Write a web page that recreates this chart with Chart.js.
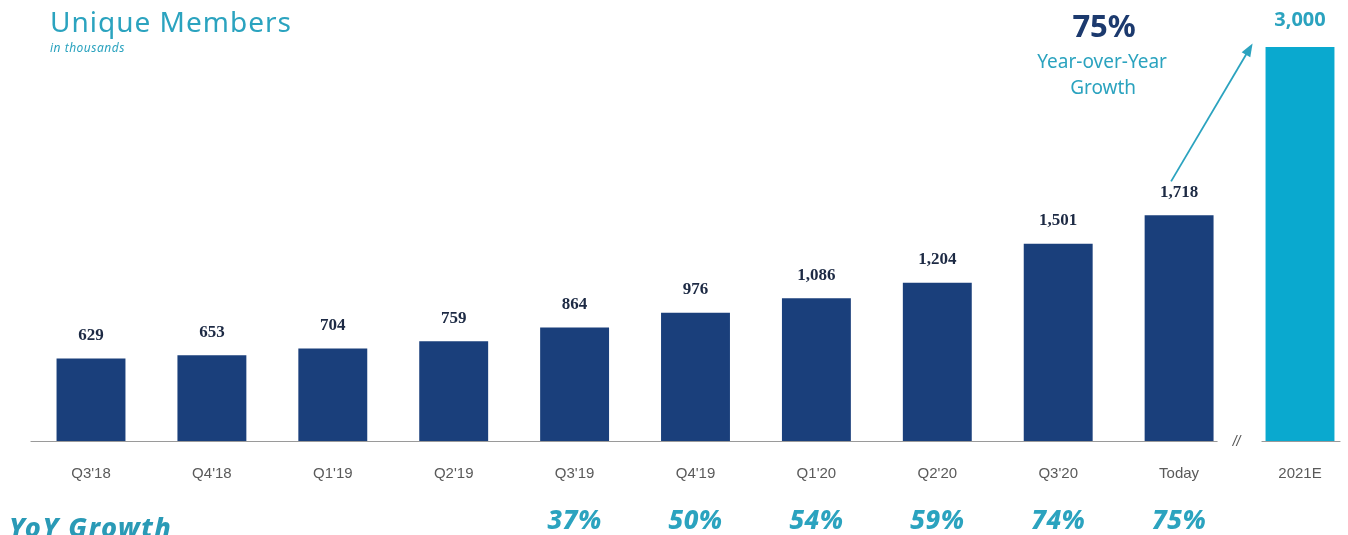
<!DOCTYPE html>
<html>
<head>
<meta charset="utf-8">
<title>Unique Members</title>
<script src="https://cdn.jsdelivr.net/npm/chart.js@4.4.1/dist/chart.umd.min.js"></script>
<style>
  html, body { margin: 0; padding: 0; background: #fff; }
  #wrap { width: 1348px; height: 535px; position: relative; }
</style>
</head>
<body>
<div id="wrap"><canvas id="membersChart"></canvas></div>
<script>
// quarters + the 2021 estimate
var categories = ["Q3'18", "Q4'18", "Q1'19", "Q2'19", "Q3'19", "Q4'19", "Q1'20", "Q2'20", "Q3'20", "Today", "2021E"];
// unique members, in thousands
var members = [629, 653, 704, 759, 864, 976, 1086, 1204, 1501, 1718, 3000];
// year over year growth (%) shown under the axis
var yoyGrowth = [null, null, null, null, 37, 50, 54, 59, 74, 75, null];
var headlineGrowth = 75;

var NAVY = '#1a3f7b';
var CYAN = '#0aa9cf';
var TEAL = '#2ba3bf';
var estimateIndex = categories.length - 1;

var barColors = members.map(function (v, i) { return i === estimateIndex ? CYAN : NAVY; });

function fmt(n) {
    return n.toLocaleString('en-US');
}

// headline text, baseline, value labels, growth row and arrow
var extras = {
    id: 'extras',
    afterDatasetsDraw: function (chart) {
        var c = chart.ctx;
        var bars = chart.getDatasetMeta(0).data;
        var area = chart.chartArea;
        var x = chart.scales.x;
        var step = x.getPixelForValue(1) - x.getPixelForValue(0);
        var today = bars[estimateIndex - 1];
        var est = bars[estimateIndex];
        var gapX = (today.x + est.x) / 2;

        c.save();

        // baseline, broken before the estimate bar
        c.strokeStyle = '#9a9a9a';
        c.lineWidth = 1.2;
        c.beginPath();
        c.moveTo(bars[0].x - step / 2, area.bottom + 0.5);
        c.lineTo(gapX - 22, area.bottom + 0.5);
        c.moveTo(est.x - est.width / 2 - 4, area.bottom + 0.5);
        c.lineTo(est.x + est.width / 2 + 6, area.bottom + 0.5);
        c.stroke();
        c.fillStyle = '#555';
        c.font = 'italic 14px "Liberation Sans", Arial, sans-serif';
        c.textAlign = 'center';
        c.textBaseline = 'middle';
        c.fillText('//', gapX - 3, area.bottom + 1);

        // value labels
        bars.forEach(function (bar, i) {
            if (i === estimateIndex) {
                c.fillStyle = TEAL;
                c.font = 'bold 20px "Noto Sans", sans-serif';
                c.fillText(fmt(members[i]), bar.x, bar.y - 27);
            } else {
                c.fillStyle = '#1d2a44';
                c.font = 'bold 17px "Liberation Serif", "Times New Roman", serif';
                c.fillText(fmt(members[i]), bar.x, bar.y - 23);
            }
        });

        // YoY growth row
        c.fillStyle = TEAL;
        c.font = 'italic 800 26px "Noto Sans", sans-serif';
        c.letterSpacing = '0.5px';
        yoyGrowth.forEach(function (g, i) {
            if (g === null) return;
            c.fillText(g + '%', bars[i].x, 522);
        });
        c.textAlign = 'left';
        c.textBaseline = 'alphabetic';
        c.fillStyle = '#2a9ab6';
        c.font = 'italic 800 27px "Noto Sans", sans-serif';
        c.letterSpacing = '1.5px';
        c.fillText('YoY Growth', 9, 537);
        c.letterSpacing = '0px';
        c.textBaseline = 'middle';

        // growth arrow from today's bar to the estimate
        var x0 = today.x - 8, y0 = today.y - 34;
        var x1 = est.x - est.width / 2 - 15, y1 = est.y;
        c.strokeStyle = TEAL;
        c.fillStyle = TEAL;
        c.lineWidth = 1.8;
        c.beginPath();
        c.moveTo(x0, y0);
        c.lineTo(x1, y1);
        c.stroke();
        var ang = Math.atan2(y1 - y0, x1 - x0);
        c.beginPath();
        c.moveTo(x1 + 4 * Math.cos(ang), y1 + 4 * Math.sin(ang));
        c.lineTo(x1 - 9 * Math.cos(ang) + 5 * Math.sin(ang), y1 - 9 * Math.sin(ang) - 5 * Math.cos(ang));
        c.lineTo(x1 - 9 * Math.cos(ang) - 5 * Math.sin(ang), y1 - 9 * Math.sin(ang) + 5 * Math.cos(ang));
        c.closePath();
        c.fill();

        // headline callout
        var cx = today.x - 75;
        c.textAlign = 'center';
        c.fillStyle = '#1c3a6e';
        c.font = 'bold 31px "Noto Sans", sans-serif';
        c.fillText(headlineGrowth + '%', cx, 28);
        c.fillStyle = TEAL;
        c.font = '19px "Noto Sans", sans-serif';
        c.fillText('Year-over-Year', cx - 2, 63);
        c.fillText('Growth', cx - 1, 89);

        // title
        c.textAlign = 'left';
        c.textBaseline = 'alphabetic';
        c.fillStyle = TEAL;
        c.font = '28px "Noto Sans", sans-serif';
        c.letterSpacing = '1px';
        c.fillText('Unique Members', 50, 32);
        c.letterSpacing = '0.5px';
        c.font = 'italic 12px "Noto Sans", sans-serif';
        c.fillText('in thousands', 50, 52);
        c.letterSpacing = '0px';

        c.restore();
    }
};

var ctx = document.getElementById('membersChart').getContext('2d');
var membersChart = new Chart(ctx, {
    type: 'bar',
    data: {
        labels: categories,
        datasets: [{
            label: 'Unique Members',
            data: members,
            backgroundColor: barColors,
            borderWidth: 0,
            barPercentage: 0.57,
            categoryPercentage: 1.0,
            clip: false
        }]
    },
    options: {
        responsive: true,
        maintainAspectRatio: false,
        animation: false,
        layout: {
            padding: { top: 47, left: 91, right: 48, bottom: 28 }
        },
        plugins: {
            legend: { display: false },
            tooltip: { enabled: false }
        },
        scales: {
            x: {
                offset: false,
                grid: { display: false, drawTicks: false },
                border: { display: false },
                ticks: {
                    color: '#5a5a5a',
                    padding: 24,
                    font: { family: '"Liberation Sans Narrow", "Liberation Sans", Arial, sans-serif', size: 15 },
                    maxRotation: 0,
                    autoSkip: false
                }
            },
            y: {
                display: false,
                min: 0,
                max: 3000
            }
        }
    },
    plugins: [extras]
});
</script>
</body>
</html>
